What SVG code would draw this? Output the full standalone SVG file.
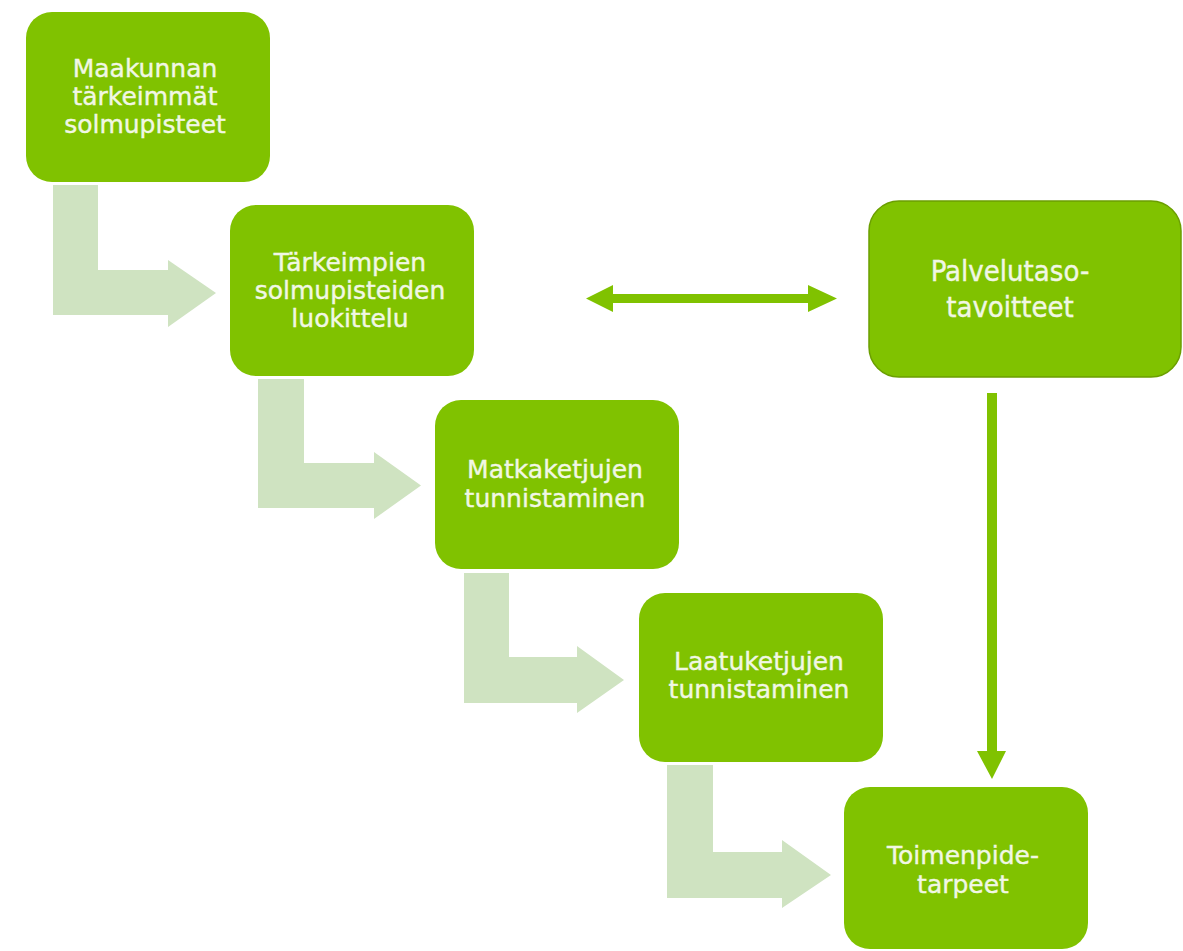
<svg xmlns="http://www.w3.org/2000/svg" width="1183" height="951" viewBox="0 0 1183 951">
<defs>
<style>
.box{fill:#80c200;}
.box2{fill:#80c200;stroke:#6b9f00;stroke-width:1.5;}
.t{font-family:"DejaVu Sans","Liberation Sans",sans-serif;font-size:25px;fill:#f1f7e4;stroke:#f1f7e4;stroke-width:0.4;text-anchor:middle;}
.tc{font-family:"DejaVu Sans Condensed","DejaVu Sans",sans-serif;font-size:29px;fill:#f1f7e4;stroke:#f1f7e4;stroke-width:0.4;text-anchor:middle;}
.bent{fill:#cfe3c1;}
.conn{fill:#80c200;}
</style>
</defs>
<rect width="1183" height="951" fill="#ffffff"/>
<g id="connectors">
<path class="bent" d="M53,185 H98 V270 H168 V260 L216,293 L168,327 V315 H53 Z"/>
<path class="bent" d="M258,379 H304 V463 H374 V452 L421,485.5 L374,519 V508 H258 Z"/>
<path class="bent" d="M464,573 H509 V657 H577 V646 L624,680 L577,713 V703 H464 Z"/>
<path class="bent" d="M667,765 H713 V852 H782 V840 L831,875 L782,908 V898 H667 Z"/>
<path class="conn" d="M586,298.5 L613,285 V294 H808 V285 L837,298.5 L808,312 V303 H613 V312 Z"/>
<path class="conn" d="M987,393 H997 V751 H1006 L992,779 L977,751 H987 Z"/>
</g>
<g id="node1">
<rect class="box" x="26" y="12" width="244" height="170" rx="26"/>
<text class="t" x="145" y="77">Maakunnan</text>
<text class="t" x="145" y="105">tärkeimmät</text>
<text class="t" x="145" y="133">solmupisteet</text>
</g>
<g id="node2">
<rect class="box" x="230" y="205" width="244" height="171" rx="26"/>
<text class="t" x="350" y="271">Tärkeimpien</text>
<text class="t" x="350" y="299">solmupisteiden</text>
<text class="t" x="350" y="327">luokittelu</text>
</g>
<g id="node3">
<rect class="box" x="435" y="400" width="244" height="169" rx="26"/>
<text class="t" x="555" y="478">Matkaketjujen</text>
<text class="t" x="555" y="507">tunnistaminen</text>
</g>
<g id="node4">
<rect class="box" x="639" y="593" width="244" height="169" rx="26"/>
<text class="t" x="759" y="670">Laatuketjujen</text>
<text class="t" x="759" y="698">tunnistaminen</text>
</g>
<g id="node5">
<rect class="box" x="844" y="787" width="244" height="162" rx="26"/>
<text class="t" x="963" y="864">Toimenpide-</text>
<text class="t" x="963" y="893">tarpeet</text>
</g>
<g id="node6">
<rect class="box2" x="869" y="201" width="312" height="176" rx="30"/>
<text class="tc" x="1010" y="281">Palvelutaso-</text>
<text class="tc" x="1010" y="317">tavoitteet</text>
</g>
</svg>
